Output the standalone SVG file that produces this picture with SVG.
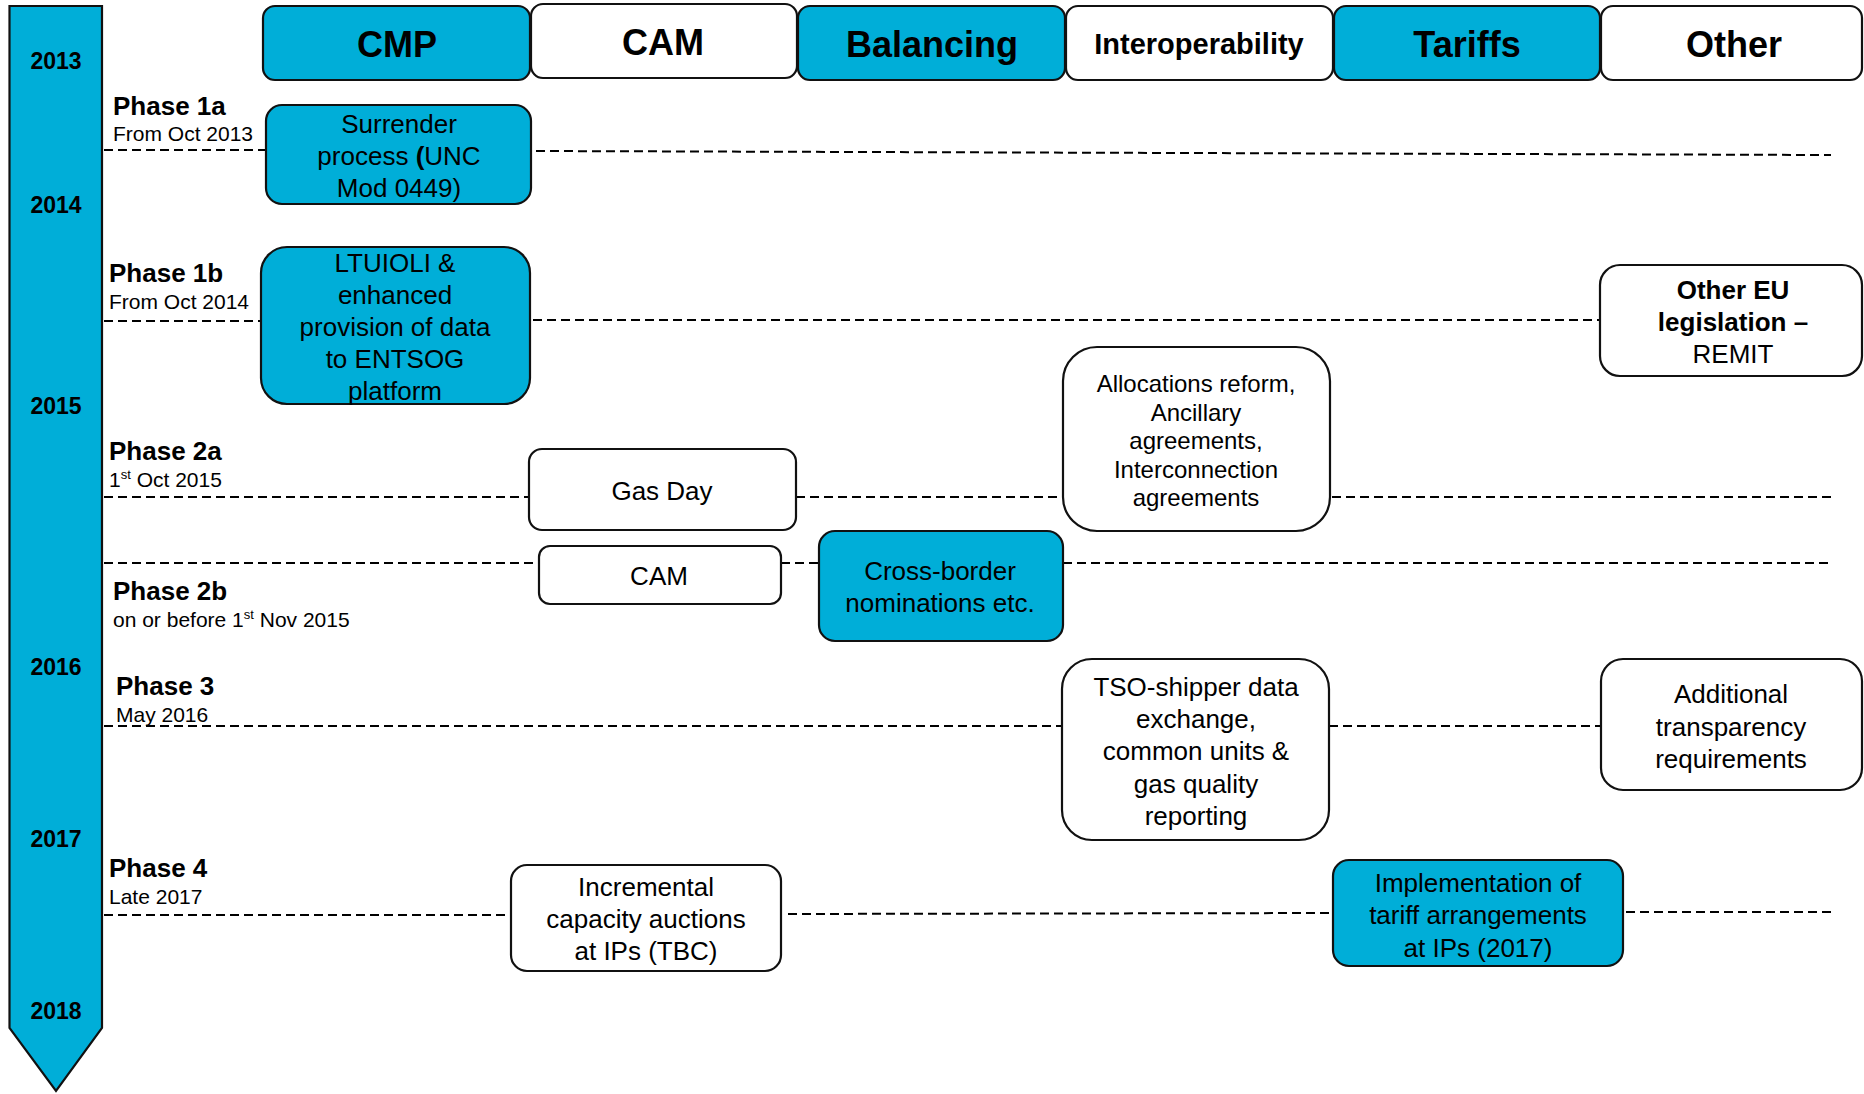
<svg xmlns="http://www.w3.org/2000/svg" width="1864" height="1094" viewBox="0 0 1864 1094">
<style>
.blue{fill:#00AED8;stroke:#111;stroke-width:2.2}
.white{fill:#fff;stroke:#111;stroke-width:2.2}
.hdr{font-family:"Liberation Sans",Arial,sans-serif;font-weight:bold;font-size:36px;text-anchor:middle;fill:#000}
.yr{font-family:"Liberation Sans",Arial,sans-serif;font-weight:bold;font-size:23px;text-anchor:middle;fill:#000}
.ph{font-family:"Liberation Sans",Arial,sans-serif;font-weight:bold;font-size:26px;fill:#000}
.sub{font-family:"Liberation Sans",Arial,sans-serif;font-size:21px;fill:#000}
.bx{font-family:"Liberation Sans",Arial,sans-serif;font-size:26px;text-anchor:middle;fill:#000}
.bxs{font-family:"Liberation Sans",Arial,sans-serif;font-size:24px;text-anchor:middle;fill:#000}
.dash{stroke:#000;stroke-width:2;stroke-dasharray:9 5;fill:none}
</style>
<rect width="1864" height="1094" fill="#fff"/>
<g id="timeline">
<polygon class="blue" points="9.5,6 102,6 102,1028 56,1091 9.5,1028"/>
<text class="yr" x="56" y="69">2013</text>
<text class="yr" x="56" y="213">2014</text>
<text class="yr" x="56" y="414">2015</text>
<text class="yr" x="56" y="675">2016</text>
<text class="yr" x="56" y="847">2017</text>
<text class="yr" x="56" y="1019">2018</text>
</g>
<g id="connectors">
<line class="dash" x1="104" y1="150" x2="266" y2="150"/>
<line class="dash" x1="536" y1="151" x2="1831" y2="155"/>
<line class="dash" x1="104" y1="321" x2="260" y2="321"/>
<line class="dash" x1="533" y1="320" x2="1599" y2="320"/>
<line class="dash" x1="104" y1="497" x2="528" y2="497"/>
<line class="dash" x1="796" y1="497" x2="1063" y2="497"/>
<line class="dash" x1="1332" y1="497" x2="1831" y2="497"/>
<line class="dash" x1="104" y1="563" x2="538" y2="563"/>
<line class="dash" x1="781" y1="563" x2="819" y2="563"/>
<line class="dash" x1="1063" y1="563" x2="1831" y2="563"/>
<line class="dash" x1="104" y1="726" x2="1062" y2="726"/>
<line class="dash" x1="1329" y1="726" x2="1601" y2="726"/>
<line class="dash" x1="104" y1="915" x2="510" y2="915"/>
<line class="dash" x1="788" y1="914" x2="1333" y2="913"/>
<line class="dash" x1="1626" y1="912" x2="1831" y2="912"/>
</g>
<g id="phases">
<text class="ph" x="113" y="115">Phase 1a</text>
<text class="sub" x="113" y="141">From Oct 2013</text>
<text class="ph" x="109" y="282">Phase 1b</text>
<text class="sub" x="109" y="309">From Oct 2014</text>
<text class="ph" x="109" y="460">Phase 2a</text>
<text class="sub" x="109" y="487">1<tspan font-size="13" dy="-8">st</tspan><tspan dy="8"> Oct 2015</tspan></text>
<text class="ph" x="113" y="600">Phase 2b</text>
<text class="sub" x="113" y="627">on or before 1<tspan font-size="13" dy="-8">st</tspan><tspan dy="8"> Nov 2015</tspan></text>
<text class="ph" x="116" y="695">Phase 3</text>
<text class="sub" x="116" y="722">May 2016</text>
<text class="ph" x="109" y="877">Phase 4</text>
<text class="sub" x="109" y="904">Late 2017</text>
</g>
<g id="hdr-cmp"><rect class="blue" x="263" y="6" width="267" height="74" rx="12"/><text class="hdr" x="397" y="57">CMP</text></g>
<g id="hdr-cam"><rect class="white" x="531" y="4" width="266" height="74" rx="12"/><text class="hdr" x="663" y="55">CAM</text></g>
<g id="hdr-balancing"><rect class="blue" x="798" y="6" width="267" height="74" rx="12"/><text class="hdr" x="932" y="57">Balancing</text></g>
<g id="hdr-interop"><rect class="white" x="1066" y="6" width="267" height="74" rx="12"/><text class="hdr" x="1199" y="54" style="font-size:29px">Interoperability</text></g>
<g id="hdr-tariffs"><rect class="blue" x="1334" y="6" width="266" height="74" rx="12"/><text class="hdr" x="1467" y="57">Tariffs</text></g>
<g id="hdr-other"><rect class="white" x="1601" y="6" width="261" height="74" rx="12"/><text class="hdr" x="1734" y="57">Other</text></g>
<g id="surrender"><rect class="blue" x="266" y="105" width="265" height="99" rx="16"/>
<text class="bx" x="399" y="133">Surrender</text>
<text class="bx" x="399" y="165">process <tspan font-weight="bold">(</tspan>UNC</text>
<text class="bx" x="399" y="197">Mod 0449)</text></g>
<g id="ltuioli"><rect class="blue" x="261" y="247" width="269" height="157" rx="26"/>
<text class="bx" x="395" y="272">LTUIOLI &amp;</text>
<text class="bx" x="395" y="304">enhanced</text>
<text class="bx" x="395" y="336">provision of data</text>
<text class="bx" x="395" y="368">to ENTSOG</text>
<text class="bx" x="395" y="400">platform</text></g>
<g id="other-eu"><rect class="white" x="1600" y="265" width="262" height="111" rx="20"/>
<text class="bx" x="1733" y="299" font-weight="bold">Other EU</text>
<text class="bx" x="1733" y="331" font-weight="bold">legislation –</text>
<text class="bx" x="1733" y="363">REMIT</text></g>
<g id="allocations"><rect class="white" x="1063" y="347" width="267" height="184" rx="34"/>
<text class="bxs" x="1196" y="392">Allocations reform,</text>
<text class="bxs" x="1196" y="421">Ancillary</text>
<text class="bxs" x="1196" y="449">agreements,</text>
<text class="bxs" x="1196" y="478">Interconnection</text>
<text class="bxs" x="1196" y="506">agreements</text></g>
<g id="gasday"><rect class="white" x="529" y="449" width="267" height="81" rx="13"/>
<text class="bx" x="662" y="500">Gas Day</text></g>
<g id="cam"><rect class="white" x="539" y="546" width="242" height="58" rx="11"/>
<text class="bx" x="659" y="585">CAM</text></g>
<g id="crossborder"><rect class="blue" x="819" y="531" width="244" height="110" rx="16"/>
<text class="bx" x="940" y="580">Cross-border</text>
<text class="bx" x="940" y="612">nominations etc.</text></g>
<g id="tso"><rect class="white" x="1062" y="659" width="267" height="181" rx="30"/>
<text class="bx" x="1196" y="696">TSO-shipper data</text>
<text class="bx" x="1196" y="728">exchange,</text>
<text class="bx" x="1196" y="760">common units &amp;</text>
<text class="bx" x="1196" y="793">gas quality</text>
<text class="bx" x="1196" y="825">reporting</text></g>
<g id="additional"><rect class="white" x="1601" y="659" width="261" height="131" rx="22"/>
<text class="bx" x="1731" y="703">Additional</text>
<text class="bx" x="1731" y="736">transparency</text>
<text class="bx" x="1731" y="768">requirements</text></g>
<g id="incremental"><rect class="white" x="511" y="865" width="270" height="106" rx="16"/>
<text class="bx" x="646" y="896">Incremental</text>
<text class="bx" x="646" y="928">capacity auctions</text>
<text class="bx" x="646" y="960">at IPs (TBC)</text></g>
<g id="implementation"><rect class="blue" x="1333" y="860" width="290" height="106" rx="16"/>
<text class="bx" x="1478" y="892">Implementation of</text>
<text class="bx" x="1478" y="924">tariff arrangements</text>
<text class="bx" x="1478" y="957">at IPs (2017)</text></g>
</svg>
